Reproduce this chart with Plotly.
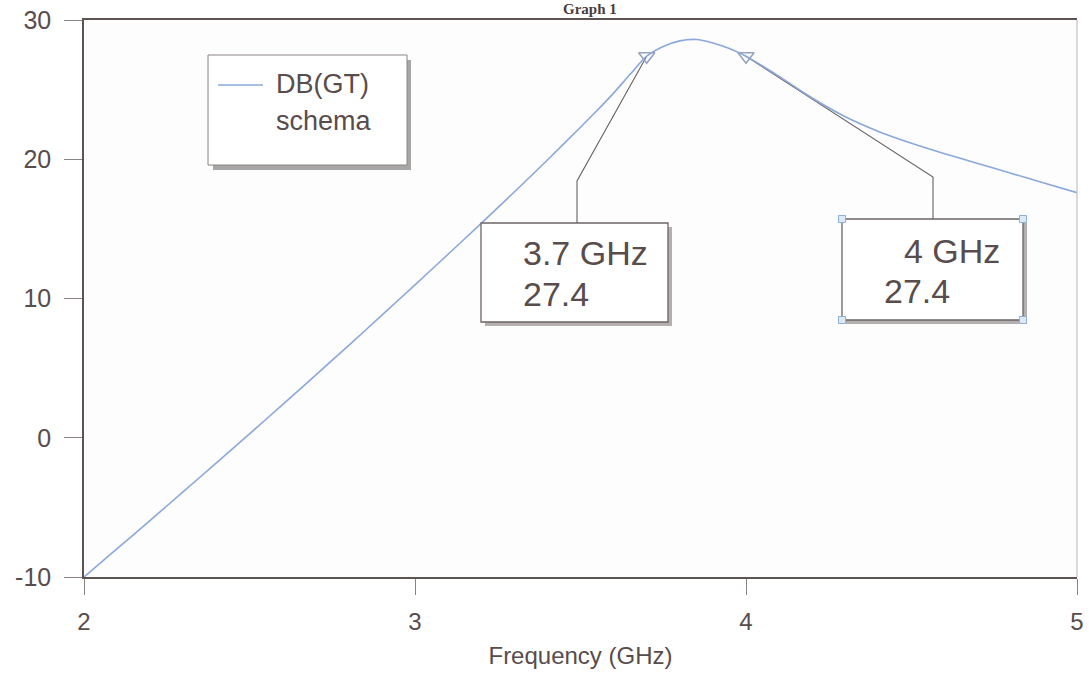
import plotly.graph_objects as go

# Transducer gain DB(GT) of the "schema" amplifier versus frequency
freq_ghz = [2.0, 2.1, 2.2, 2.3, 2.4, 2.5, 2.6, 2.7, 2.8, 2.9, 3.0, 3.1, 3.2, 3.3,
            3.4, 3.5, 3.55, 3.6, 3.65, 3.7, 3.75, 3.8, 3.85, 3.9, 3.95, 4.0,
            4.05, 4.1, 4.2, 4.3, 4.4, 4.5, 4.6, 4.7, 4.8, 4.9, 5.0]
gain_db = [-10.0, -7.97, -5.93, -3.87, -1.8, 0.28, 2.38, 4.5, 6.64, 8.8, 10.98, 13.18, 15.4, 17.65,
           19.95, 22.3, 23.5, 24.75, 26.1, 27.4, 28.1, 28.5, 28.6, 28.35, 27.95, 27.4,
           26.7, 25.95, 24.4, 23.05, 22.0, 21.15, 20.4, 19.7, 19.0, 18.3, 17.6]

# Marker readouts
marker_freq = [3.7, 4.0]
marker_gain = [27.4, 27.4]

x_ticks = [2, 3, 4, 5]
y_ticks = [-10, 0, 10, 20, 30]

W, H = 1089, 676
ML, MR, MT, MB = 84, 12, 20, 99
PW, PH = W - ML - MR, H - MT - MB
X_RANGE = [2, 5]
Y_RANGE = [-10, 30]

TEXT = "#594c4c"
AXIS = "#5e5252"
CURVE = "#8aa8dc"
FONT = "Liberation Sans, Arial, sans-serif"


def dx(px):
    """pixel column -> frequency axis units"""
    return X_RANGE[0] + (px - ML) / PW * (X_RANGE[1] - X_RANGE[0])


def dy(py):
    """pixel row -> gain axis units"""
    return Y_RANGE[1] - (py - MT) / PH * (Y_RANGE[1] - Y_RANGE[0])


def px_(px):
    return (px - ML) / PW


def py_(py):
    return 1 - (py - MT) / PH


fig = go.Figure()

fig.add_trace(go.Scatter(
    x=freq_ghz, y=gain_db, mode="lines", name="DB(GT)",
    line=dict(color=CURVE, width=1.6, shape="spline", smoothing=0.8),
    showlegend=False, hoverinfo="skip"))

fig.add_trace(go.Scatter(
    x=marker_freq, y=marker_gain, mode="markers", showlegend=False,
    marker=dict(symbol="triangle-down-open", size=14, color="#95a3c0",
                line=dict(width=1.6)),
    hoverinfo="skip"))

shapes = []
annotations = []

# Marker callouts: leader elbow (px), box extents (px), text anchors (px)
callouts = [
    dict(elbow=(577, 181), box=(481, 223, 668, 322),
         line1=(521, 253), line2=(521, 294), handles=False),
    dict(elbow=(933, 177), box=(842, 219, 1023, 320),
         line1=(902, 251), line2=(882, 291), handles=True),
]

for f, g, c in zip(marker_freq, marker_gain, callouts):
    ex, ey = c["elbow"]
    x0, y0, x1, y1 = c["box"]
    shapes.append(dict(
        type="path", xref="x", yref="y", layer="below",
        path=f"M {f},{g} L {dx(ex)},{dy(ey)} L {dx(ex)},{dy(y0)}",
        line=dict(color="#6a6262", width=1.1)))
    # drop shadow
    shapes.append(dict(
        type="rect", xref="x", yref="y", layer="above",
        x0=dx(x0 + 4), x1=dx(x1 + 4), y0=dy(y0 + 4), y1=dy(y1 + 4),
        fillcolor="#b4b0b0", line=dict(width=0)))
    shapes.append(dict(
        type="rect", xref="x", yref="y", layer="above",
        x0=dx(x0), x1=dx(x1), y0=dy(y0), y1=dy(y1),
        fillcolor="white", line=dict(color="#6e6464", width=1.3)))
    if c["handles"]:
        for hx in (x0, x1):
            for hy in (y0, y1):
                shapes.append(dict(
                    type="rect", xref="x", yref="y", layer="above",
                    xsizemode="pixel", ysizemode="pixel",
                    xanchor=dx(hx), yanchor=dy(hy),
                    x0=-3.5, x1=3.5, y0=-3.5, y1=3.5,
                    fillcolor="#dbe8f7", line=dict(color="#8fb0d8", width=1)))
    for txt, (tx, ty) in ((f"{f:g} GHz", c["line1"]), (f"{g:.1f}", c["line2"])):
        annotations.append(dict(
            x=dx(tx), y=dy(ty), xref="x", yref="y", text=txt,
            showarrow=False, xanchor="left", yanchor="middle",
            font=dict(family=FONT, size=34, color=TEXT)))

# Legend box
lx0, ly0, lx1, ly1 = 208, 55, 407, 165
shapes.append(dict(type="rect", xref="paper", yref="paper", layer="above",
                   x0=px_(lx0 + 5), x1=px_(lx1 + 4), y0=py_(ly0 + 5), y1=py_(ly1 + 5),
                   fillcolor="#a9a6a6", line=dict(width=0)))
shapes.append(dict(type="rect", xref="paper", yref="paper", layer="above",
                   x0=px_(lx0), x1=px_(lx1), y0=py_(ly0), y1=py_(ly1),
                   fillcolor="white", line=dict(color="#8c8484", width=1)))
shapes.append(dict(type="line", xref="paper", yref="paper", layer="above",
                   x0=px_(218), x1=px_(263), y0=py_(85), y1=py_(85),
                   line=dict(color=CURVE, width=1.6)))
annotations.append(dict(x=px_(274), y=py_(84), xref="paper", yref="paper",
                        text="DB(GT)", showarrow=False, xanchor="left", yanchor="middle",
                        font=dict(family=FONT, size=27, color=TEXT)))
annotations.append(dict(x=px_(274), y=py_(121), xref="paper", yref="paper",
                        text="schema", showarrow=False, xanchor="left", yanchor="middle",
                        font=dict(family=FONT, size=27, color=TEXT)))

# Right frame edge (lighter than the axes)
shapes.append(dict(type="line", xref="paper", yref="paper", layer="above",
                   x0=1, x1=1, y0=0, y1=1, line=dict(color="#c4c0c0", width=1.2)))

# Graph title in the strip above the frame
annotations.append(dict(x=px_(590), y=py_(0), xref="paper", yref="paper",
                        text="<b>Graph 1</b>", showarrow=False,
                        xanchor="center", yanchor="top", borderpad=0,
                        font=dict(family="Liberation Serif, Times New Roman, serif",
                                  size=15, color="#4a3c3c")))

fig.update_layout(
    width=W, height=H,
    margin=dict(l=ML, r=MR, t=MT, b=MB, pad=0),
    paper_bgcolor="white",
    plot_bgcolor="#fdfdfd",
    font=dict(family=FONT, color=TEXT),
    shapes=shapes,
    annotations=annotations,
    showlegend=False,
    xaxis=dict(
        range=X_RANGE, tickvals=x_ticks, ticktext=[str(v) for v in x_ticks],
        showgrid=False, zeroline=False,
        showline=True, linecolor=AXIS, linewidth=1.5, mirror=True,
        ticks="outside", ticklen=16, tickwidth=1, tickcolor="#8a8282",
        ticklabelstandoff=6,
        tickfont=dict(family=FONT, size=24, color=TEXT),
        title=dict(text="Frequency (GHz)", standoff=14,
                   font=dict(family=FONT, size=24, color=TEXT)),
        automargin=False,
    ),
    yaxis=dict(
        range=Y_RANGE, tickvals=y_ticks, ticktext=[str(v) for v in y_ticks],
        showgrid=False, zeroline=False,
        showline=True, linecolor=AXIS, linewidth=1.5, mirror=False,
        ticks="outside", ticklen=18, tickwidth=1, tickcolor="#8a8282",
        ticklabelstandoff=8,
        tickfont=dict(family=FONT, size=25, color=TEXT),
        automargin=False,
    ),
)

fig.write_html("out.html")
